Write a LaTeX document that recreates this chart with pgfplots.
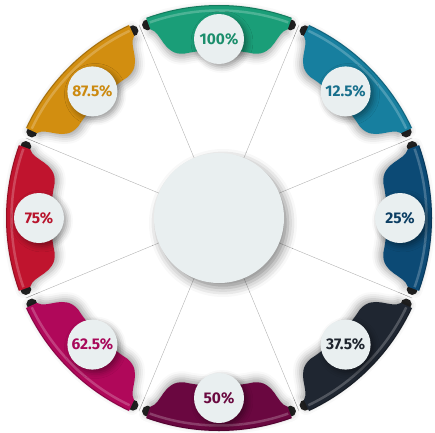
\documentclass[border=0pt]{standalone}
\usepackage{fontspec}
\setmainfont{Fira Sans}
\usepackage{pgfplots}
\pgfplotsset{compat=1.18}
\usetikzlibrary{shadows.blur}
\definecolor{cA}{HTML}{1A9E78}\definecolor{tA}{HTML}{1B8E6C}
\definecolor{cB}{HTML}{177F9F}\definecolor{tB}{HTML}{176F8C}
\definecolor{cC}{HTML}{0C4A75}\definecolor{tC}{HTML}{0C3E63}
\definecolor{cD}{HTML}{1F2631}\definecolor{tD}{HTML}{1F252E}
\definecolor{cE}{HTML}{6A0740}\definecolor{tE}{HTML}{6A0A40}
\definecolor{cF}{HTML}{B0085A}\definecolor{tF}{HTML}{A8085A}
\definecolor{cG}{HTML}{C0142E}\definecolor{tG}{HTML}{B8142C}
\definecolor{cH}{HTML}{D28E10}\definecolor{tH}{HTML}{CC8A10}
\definecolor{lfill}{HTML}{E9EFF0}
\definecolor{curl}{HTML}{232323}
% #1 centre angle, #2 colour, #3 #4 shadow shift
\newcommand\band[4]{%
  \fill[curl] (#1+20.3:206pt) circle (5.5pt);
  \fill[curl] (#1-20.3:206pt) circle (5.5pt);
  \fill[#2, blur shadow={shadow xshift=#3, shadow yshift=#4, shadow blur radius=7pt, shadow opacity=35}]
    (#1-20:213pt) arc[start angle=#1-20, end angle=#1+20, radius=213pt]
    -- (#1+20:201pt) .. controls (#1+17:194pt) and (#1+19:172pt) .. (#1+12:168pt)
    arc[start angle=#1+12, end angle=#1-12, radius=168pt]
    .. controls (#1-19:172pt) and (#1-17:194pt) .. (#1-20:201pt) -- cycle;
  \draw[white, opacity=0.22, line width=2.5pt] (#1-19.5:207.5pt) arc[start angle=#1-19.5, end angle=#1+19.5, radius=207.5pt];
  \draw[black, opacity=0.22, line width=1pt] (#1-19.8:212.5pt) arc[start angle=#1-19.8, end angle=#1+19.8, radius=212.5pt];
}
\newcommand\divider[1]{\draw[black!30, line width=0.4pt] (#1:64pt) -- (#1:209pt);}
\begin{document}
\begin{tikzpicture}
\begin{axis}[width=435pt, height=432pt, scale only axis,
  xmin=-219, xmax=216, ymin=-214, ymax=218, hide axis, clip=false,
  lbl/.style={draw=none, only marks, mark=*, mark size=0.1pt, mark options={fill=lfill, draw=none},
    nodes near coords, point meta=explicit symbolic,
    every node near coord/.style={anchor=center, circle, fill=lfill, minimum size=50pt, inner sep=0pt,
      font=\fontsize{15.5}{17}\selectfont\bfseries, text=#1,
      blur shadow={shadow xshift=3pt, shadow yshift=-3pt, shadow blur radius=6pt, shadow opacity=40}}}]
\begin{scope}[shift={(axis cs:0,0)}]
  \divider{22.5}\divider{67.5}\divider{112.5}\divider{157.5}
  \divider{202.5}\divider{247.5}\divider{292.5}\divider{337.5}
  \fill[lfill, blur shadow={shadow xshift=4pt, shadow yshift=-5pt, shadow blur radius=9pt, shadow opacity=45}] (0pt,0pt) circle (65pt);
  \band{90}{cA}{0pt}{-4pt}
  \band{45}{cB}{-3pt}{-3pt}
  \band{0}{cC}{-4pt}{0pt}
  \band{-45}{cD}{-3pt}{3pt}
  \band{-90}{cE}{0pt}{4pt}
  \band{-135}{cF}{3pt}{3pt}
  \band{180}{cG}{4pt}{0pt}
  \band{135}{cH}{3pt}{-3pt}
\end{scope}
\addplot[lbl=tA] coordinates {(0,179) [100\%]};
\addplot[lbl=tB] coordinates {(126.6,126.6) [12.5\%]};
\addplot[lbl=tC] coordinates {(181,0) [25\%]};
\addplot[lbl=tD] coordinates {(126.6,-126.6) [37.5\%]};
\addplot[lbl=tE] coordinates {(0,-180) [50\%]};
\addplot[lbl=tF] coordinates {(-126.6,-126.6) [62.5\%]};
\addplot[lbl=tG] coordinates {(-180,0) [75\%]};
\addplot[lbl=tH] coordinates {(-126.6,126.6) [87.5\%]};
\end{axis}
\pgfresetboundingbox
\path[use as bounding box] (current axis.south west) rectangle (current axis.north east);
\end{tikzpicture}
\end{document}
